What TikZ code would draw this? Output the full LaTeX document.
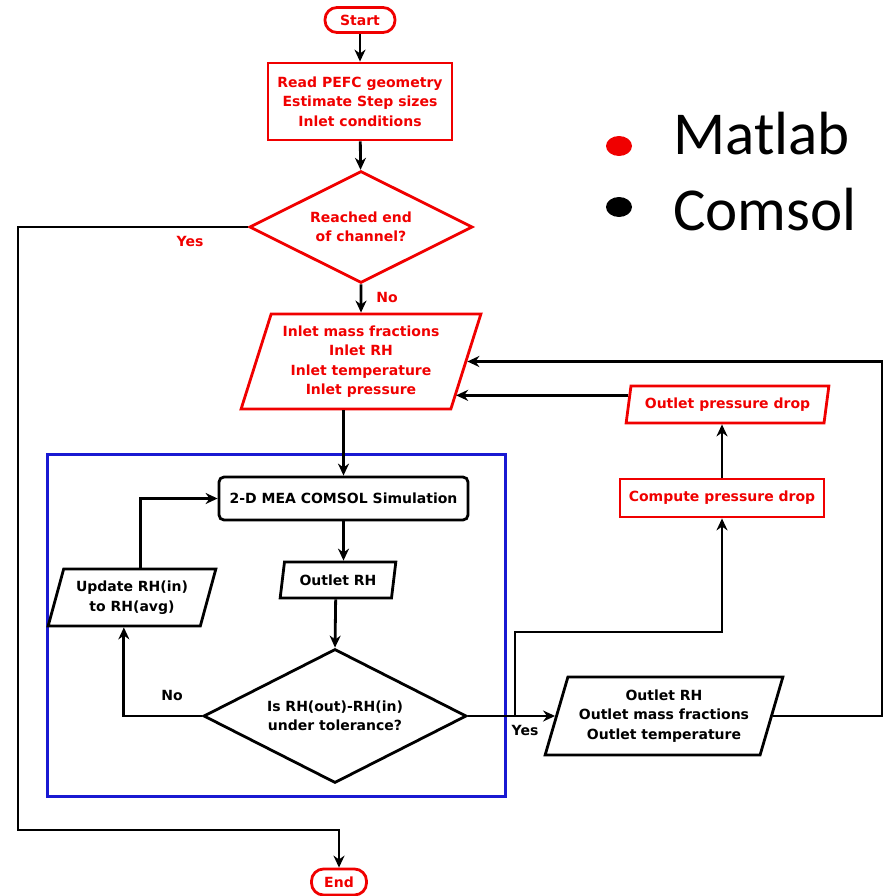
\documentclass[tikz,border=0pt]{standalone}
\usepackage{fontspec}
\setmainfont{DejaVu Sans}
\newfontfamily\legfont{Carlito}
\usetikzlibrary{shapes.geometric,arrows.meta,calc}
\definecolor{mred}{RGB}{240,0,0}
\definecolor{mblue}{RGB}{25,25,210}
\begin{document}
\begin{tikzpicture}[x=1pt,y=-1pt]
\tikzset{
  base/.style={line width=2.8pt, font=\bfseries\fontsize{14}{19.5}\selectfont, align=center, inner sep=0pt},
  mat/.style={base, draw=mred, text=mred},
  com/.style={base, draw=black, text=black},
  term/.style={rectangle, rounded corners=12pt},
  proc/.style={rectangle},
  para/.style={trapezium, trapezium stretches=true},
  cond/.style={diamond, aspect=2},
  arr/.style={line width=2.8pt, -{Stealth[length=12pt,width=11pt]}},
  lbl/.style={font=\bfseries\fontsize{14}{16}\selectfont, inner sep=0pt},
  legtext/.style={font=\legfont\fontsize{61}{61}\selectfont, anchor=base west, inner sep=0pt}
}
\useasboundingbox (0,0) rectangle (887,896);

% COMSOL loop frame
\draw[mblue, line width=3pt] (47,454) rectangle (505,796);

% nodes
\node[mat, term, minimum width=70, minimum height=25] (start) at (360,20) {Start};
\node[mat, proc, minimum width=184, minimum height=77] (read) at (360,101.5)
  {Read PEFC geometry\\Estimate Step sizes\\Inlet conditions};
\node[mat, cond, minimum width=223, minimum height=112] (reach) at (361,227)
  {Reached end\\of channel?};
\node[mat, para, trapezium left angle=70, trapezium right angle=110,
      minimum width=240, minimum height=95] (inlet) at (361,361.5)
  {Inlet mass fractions\\Inlet RH\\Inlet temperature\\Inlet pressure};
\node[com, rectangle, rounded corners=5pt, minimum width=249, minimum height=43] (sim) at (343.5,498.5)
  {2-D MEA COMSOL Simulation};
\node[com, para, trapezium left angle=74, trapezium right angle=106,
      minimum width=116, minimum height=36] (orh) at (338,580) {Outlet RH};
\node[com, cond, minimum width=263, minimum height=134] (tol) at (335,716)
  {Is RH(out)-RH(in)\\under tolerance?};
\node[com, para, trapezium left angle=69, trapezium right angle=111,
      minimum width=168, minimum height=57] (upd) at (132,597.5)
  {Update RH(in)\\to RH(avg)};
\node[com, para, trapezium left angle=69, trapezium right angle=111,
      minimum width=238, minimum height=78] (out) at (664,716)
  {Outlet RH\\Outlet mass fractions\\Outlet temperature};
\node[mat, proc, minimum width=204, minimum height=38] (comp) at (722,498)
  {Compute pressure drop};
\node[mat, para, trapezium left angle=73, trapezium right angle=107,
      minimum width=203, minimum height=37] (opd) at (727.5,404.5)
  {Outlet pressure drop};
\node[mat, term, minimum width=55, minimum height=26] (endn) at (339,882) {End};

% helper points for routing
\coordinate (yl) at (18,830);
\coordinate (br) at (515,716);
\coordinate (bu) at (515,632);
\coordinate (rc) at (882,361.5);
\coordinate (pd) at ($(opd.top left corner)!0.27!(opd.bottom left corner)$);
\coordinate (ie) at ($(inlet.top right corner)!0.863!(inlet.bottom right corner)$);

% connectors
\draw[arr] (start) -- (read);
\draw[arr] (read) -- (reach);
\draw[arr] (reach.west) -| (yl) -| (endn.north);
\draw[arr] (reach.south) -- (inlet.north);
\draw[arr] (sim.north |- inlet.bottom side) -- (sim.north);
\draw[arr] (sim.south) -- (sim.south |- orh.top side);
\draw[arr] (orh.bottom side) -- (tol.north);
\draw[arr] (tol.west) -| (upd.bottom side);
\draw[arr] (upd.top side) |- (sim.west);
\draw[arr] (tol.east) -- (out.left side);
\draw[arr] (br) -- (bu) -| (comp.south);
\draw[arr] (comp.north) -- (comp.north |- opd.bottom side);
\draw[arr] (pd) -- (pd -| ie);
\draw[arr] (out.right side) -| (rc) -- (inlet.right side);

% branch labels
\node[lbl, text=mred] at (190,241) {Yes};
\node[lbl, text=mred] at (387,297) {No};
\node[lbl] at (172,695) {No};
\node[lbl] at (525,730) {Yes};

% legend
\fill[mred] (619,146) ellipse [x radius=13, y radius=10];
\fill[black] (619,207) ellipse [x radius=13, y radius=10];
\node[legtext] (lm) at (673,155) {Matlab};
\node[legtext] (lc) at (673,230) {Comsol};
\end{tikzpicture}
\end{document}
